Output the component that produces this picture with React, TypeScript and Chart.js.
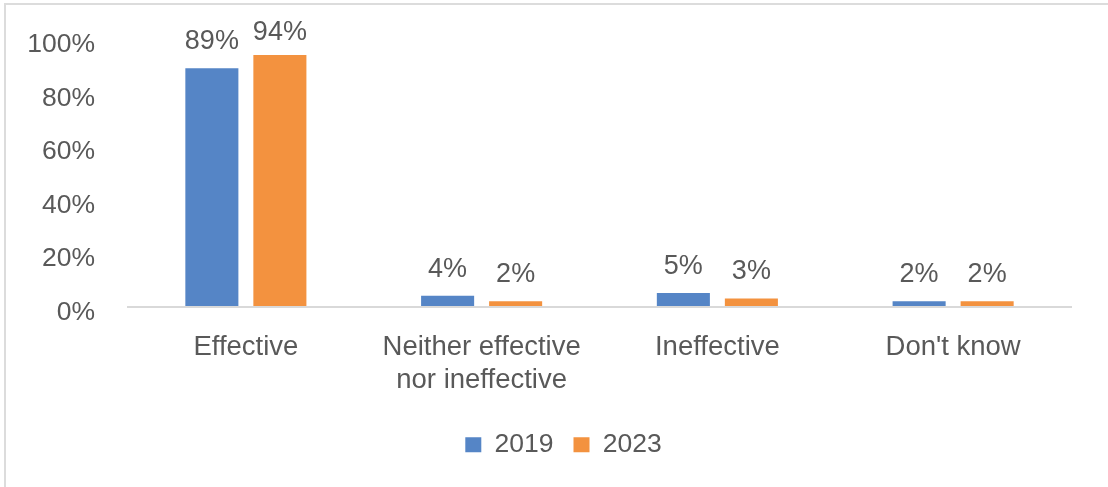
import React, { useEffect, useRef } from "react";
import { Chart, registerables } from "chart.js";

Chart.register(...registerables);

const categories: (string | string[])[] = [
  "Effective",
  ["Neither effective", "nor ineffective"],
  "Ineffective",
  "Don't know",
];
const series2019 = [89, 4, 5, 2];
const series2023 = [94, 2, 3, 2];
const seriesNames = ["2019", "2023"];
const yTicks = [0, 20, 40, 60, 80, 100];

const FONT = "'Liberation Sans', Arial, sans-serif";
const TEXT = "#595959";

const dataLabelPlugin = {
  id: "dataLabels",
  afterDatasetsDraw(chart: any) {
    const ctx = chart.ctx;
    ctx.save();
    ctx.font = `27px ${FONT}`;
    ctx.fillStyle = TEXT;
    ctx.textAlign = "center";
    ctx.textBaseline = "alphabetic";
    chart.data.datasets.forEach((ds: any, di: number) => {
      const meta = chart.getDatasetMeta(di);
      meta.data.forEach((bar: any, i: number) => {
        let y = bar.y - 19;
        const minY = chart.chartArea.top + 1.5;
        if (y < minY) y = minY;
        ctx.fillText(`${ds.data[i]}%`, bar.x, y);
      });
    });
    ctx.restore();
  },
};

const legendShiftPlugin = {
  id: "legendShift",
  afterLayout(chart: any) {
    if (chart.legend) {
      chart.legend.left += 28;
      chart.legend.right += 28;
    }
  },
};

export default function App() {
  const canvasRef = useRef<HTMLCanvasElement | null>(null);

  useEffect(() => {
    if (!canvasRef.current) return;
    const chart = new Chart(canvasRef.current, {
      type: "bar",
      data: {
        labels: categories,
        datasets: [
          {
            label: seriesNames[0],
            data: series2019,
            backgroundColor: "#5585C6",
            categoryPercentage: 0.577,
            barPercentage: 0.78,
          },
          {
            label: seriesNames[1],
            data: series2023,
            backgroundColor: "#F3923F",
            categoryPercentage: 0.577,
            barPercentage: 0.78,
          },
        ],
      },
      options: {
        responsive: false,
        animation: false,
        devicePixelRatio: 1,
        layout: { padding: { top: 20, right: 37, bottom: 19, left: 0 } },
        plugins: {
          tooltip: { enabled: false },
          legend: {
            position: "bottom",
            labels: {
              font: { family: FONT, size: 26.5 },
              color: TEXT,
              boxWidth: 16,
              boxHeight: 15,
              padding: 20,
            },
          },
        },
        scales: {
          x: {
            grid: { display: false, drawTicks: false },
            border: { display: true, color: "#d9d9d9", width: 2 },
            ticks: {
              font: { family: FONT, size: 27.5 },
              color: TEXT,
              padding: 24,
              maxRotation: 0,
              autoSkip: false,
            },
            afterFit: (scale: any) => {
              scale.height = 105;
            },
          },
          y: {
            min: 0,
            max: 100,
            grid: {
              display: true,
              drawOnChartArea: false,
              drawTicks: true,
              tickLength: 10,
              color: "rgba(0,0,0,0)",
            },
            border: { display: false },
            afterBuildTicks: (scale: any) => {
              scale.ticks = yTicks.map((v) => ({ value: v }));
            },
            ticks: {
              font: { family: FONT, size: 26.5 },
              color: TEXT,
              padding: 23,
              labelOffset: 6,
              callback: (v: any) => `${v}%`,
            },
            afterFit: (scale: any) => {
              scale.width = 128;
            },
          },
        },
      },
      plugins: [dataLabelPlugin, legendShiftPlugin],
    });
    return () => chart.destroy();
  }, []);

  return (
    <div
      style={{
        position: "absolute",
        left: 0,
        top: 0,
        width: 1108,
        height: 487,
        background: "#ffffff",
        overflow: "hidden",
      }}
    >
      <div
        style={{
          position: "absolute",
          left: 4,
          top: 3,
          width: 1300,
          height: 700,
          borderLeft: "2px solid #dcdcdc",
          borderTop: "2px solid #dcdcdc",
        }}
      />
      <canvas
        ref={canvasRef}
        width={1108}
        height={487}
        style={{ position: "absolute", left: 0, top: 0, width: 1108, height: 487 }}
      />
    </div>
  );
}
